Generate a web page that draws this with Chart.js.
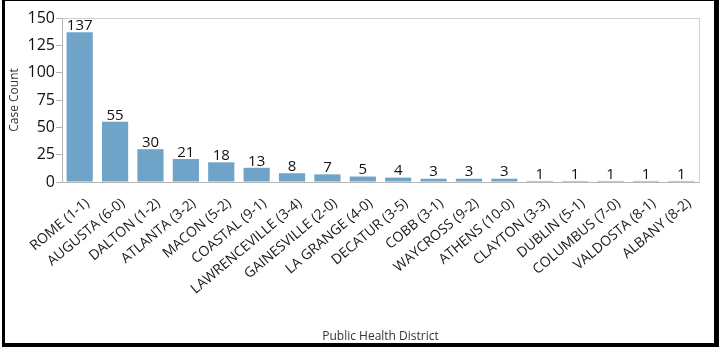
<!DOCTYPE html>
<html>
<head>
<meta charset="utf-8">
<script src="https://cdn.jsdelivr.net/npm/chart.js@4/dist/chart.umd.min.js"></script>
<style>
  body { margin: 0; background: #fff; }
  #wrap { position: relative; width: 719px; height: 350px; overflow: hidden; }
  #frame {
    position: absolute; left: 2px; top: -1px; width: 717px; height: 348px;
    box-sizing: border-box; pointer-events: none;
    border-style: solid; border-color: #000;
    border-width: 2px 5px 4px 3px;
  }
</style>
</head>
<body>
<div id="wrap">
  <canvas id="canvas" width="719" height="350"></canvas>
  <div id="frame"></div>
</div>
<script>
var districts = ["ROME (1-1)", "AUGUSTA (6-0)", "DALTON (1-2)", "ATLANTA (3-2)", "MACON (5-2)",
  "COASTAL (9-1)", "LAWRENCEVILLE (3-4)", "GAINESVILLE (2-0)", "LA GRANGE (4-0)", "DECATUR (3-5)",
  "COBB (3-1)", "WAYCROSS (9-2)", "ATHENS (10-0)", "CLAYTON (3-3)", "DUBLIN (5-1)",
  "COLUMBUS (7-0)", "VALDOSTA (8-1)", "ALBANY (8-2)"];
var caseCounts = [137, 55, 30, 21, 18, 13, 8, 7, 5, 4, 3, 3, 3, 1, 1, 1, 1, 1];
var yTicks = [0, 25, 50, 75, 100, 125, 150];

var axisGray = "#b4b4b4";
var fontFamily = "'Open Sans', sans-serif";

// value labels on top of each bar
var barLabels = {
  id: "barLabels",
  afterDatasetsDraw: function(chart) {
    var ctx = chart.ctx;
    var meta = chart.getDatasetMeta(0);
    ctx.save();
    ctx.font = "15px " + fontFamily;
    ctx.fillStyle = "#111";
    ctx.textAlign = "center";
    ctx.textBaseline = "bottom";
    meta.data.forEach(function(bar, i) {
      ctx.fillText(String(caseCounts[i]), bar.x, bar.y + 1);
    });
    ctx.restore();
  }
};

// light box round the plot area
var plotBox = {
  id: "plotBox",
  afterDraw: function(chart) {
    var a = chart.chartArea;
    var ctx = chart.ctx;
    ctx.save();
    ctx.strokeStyle = "#cfcfcf";
    ctx.lineWidth = 1;
    ctx.strokeRect(a.left + 0.5, a.top + 0.5, a.right - a.left, a.bottom - a.top);
    ctx.strokeStyle = axisGray;
    ctx.beginPath();
    ctx.moveTo(a.left + 0.5, a.top);
    ctx.lineTo(a.left + 0.5, a.bottom + 0.5);
    ctx.lineTo(a.right, a.bottom + 0.5);
    ctx.stroke();
    ctx.restore();
  }
};

new Chart(document.getElementById("canvas"), {
  type: "bar",
  data: {
    labels: districts,
    datasets: [{
      data: caseCounts,
      backgroundColor: "#6fa3c8",
      categoryPercentage: 1,
      barPercentage: 0.74
    }]
  },
  options: {
    responsive: false,
    animation: false,
    layout: { padding: { top: 18, right: 20, bottom: 0, left: 0 } },
    plugins: { legend: { display: false }, tooltip: { enabled: false } },
    scales: {
      x: {
        grid: { display: false },
        border: { display: false },
        ticks: {
          autoSkip: false,
          minRotation: 40,
          maxRotation: 40,
          padding: 5,
          labelOffset: 8,
          color: "#1a1a1a",
          font: { family: fontFamily, size: 14 }
        },
        title: {
          display: true,
          text: "Public Health District",
          color: "#333",
          padding: 6,
          font: { family: fontFamily, size: 12 }
        },
        afterFit: function(scale) { scale.height = 168; }
      },
      y: {
        min: 0,
        max: 150,
        afterBuildTicks: function(scale) {
          scale.ticks = yTicks.map(function(v) { return { value: v }; });
        },
        grid: { drawOnChartArea: false, tickLength: 6, color: axisGray },
        border: { display: false },
        ticks: {
          padding: 1,
          color: "#111",
          font: { family: fontFamily, size: 16 }
        },
        title: {
          display: true,
          text: "Case Count",
          color: "#333",
          padding: 7,
          font: { family: fontFamily, size: 12 }
        },
        afterFit: function(scale) { scale.width = 62; }
      }
    }
  },
  plugins: [barLabels, plotBox]
});
</script>
</body>
</html>
